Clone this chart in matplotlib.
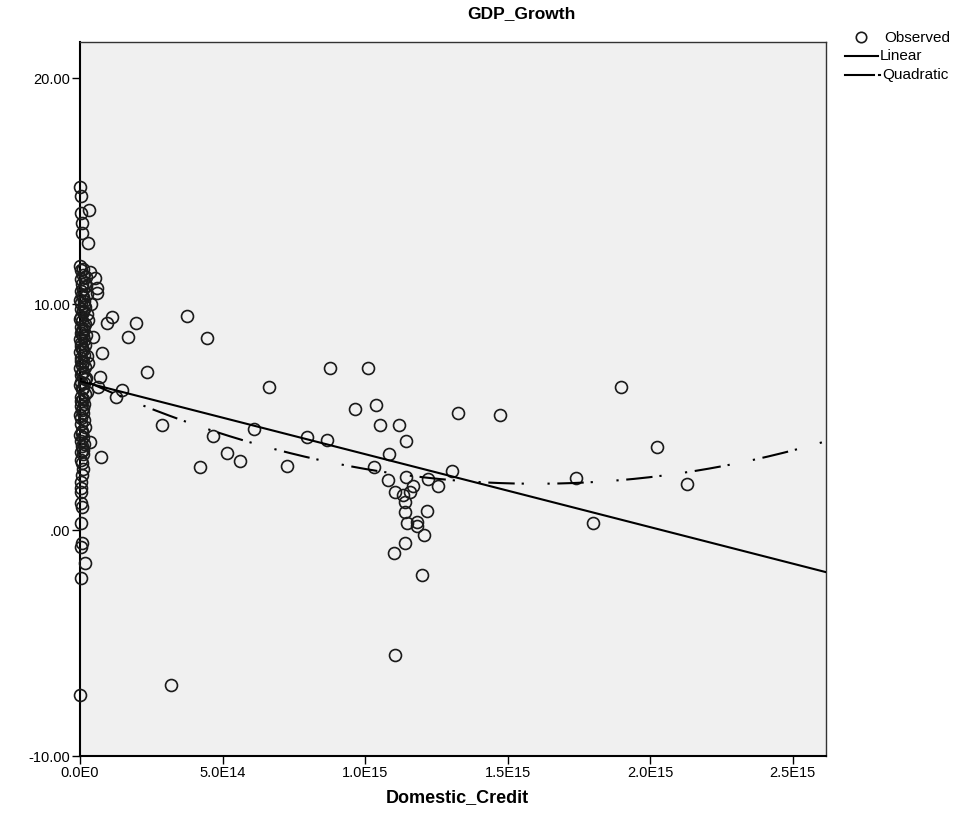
import matplotlib
matplotlib.use("Agg")
import matplotlib.pyplot as plt
from matplotlib.lines import Line2D
import numpy as np

plt.rcParams['font.family'] = ['Liberation Sans', 'DejaVu Sans']
plt.rcParams['lines.scale_dashes'] = False

# ---- data (x in units of 1E15) ----
obs_x = [
    # cluster at the axis
    0.000, 0.005, 0.030, 0.004, 0.006, 0.007, 0.028,
    0.000, 0.004, 0.035, 0.053, 0.060, 0.060, 0.010, 0.002, 0.006, 0.020,
    0.003, 0.008, 0.012, 0.001, 0.005, 0.015, 0.040, 0.002, 0.009, 0.025,
    0.004, 0.001, 0.007, 0.018, 0.003, 0.046, 0.006, 0.002, 0.011, 0.000,
    0.005, 0.028, 0.003, 0.008, 0.001, 0.013, 0.004, 0.002, 0.006, 0.025,
    0.000, 0.009, 0.003, 0.018, 0.005, 0.001, 0.007, 0.002, 0.004, 0.035,
    0.003, 0.007, 0.001, 0.005, 0.002, 0.074, 0.007, 0.000, 0.004,
    0.006, 0.002, 0.004, 0.006, 0.003, 0.005, 0.002, 0.004, 0.018, 0.007,
    0.003, 0.006, 0.004, 0.002,
    # denser part of the axis cluster
    0.012, 0.022, 0.016, 0.010, 0.024, 0.014, 0.019, 0.011, 0.027, 0.015,
    0.009, 0.021, 0.013, 0.017, 0.010, 0.023, 0.012, 0.016, 0.008, 0.020,
    0.014, 0.011, 0.018, 0.009, 0.015, 0.012, 0.010, 0.013, 0.016, 0.008,
    0.011, 0.014, 0.009, 0.012, 0.010, 0.008,
    # spread out points
    0.112, 0.095, 0.077, 0.070, 0.147, 0.126, 0.063, 0.196, 0.168, 0.375,
    0.446, 0.235, 0.288, 0.467, 0.421, 0.516, 0.561, 0.611, 0.663, 0.319,
    0.726, 0.796, 0.867, 0.877, 1.011,
    0.965, 1.039, 1.326, 1.474, 1.053, 1.119, 1.144, 1.084, 1.305, 1.032,
    1.081, 1.144, 1.221, 1.256, 1.168, 1.105, 1.133, 1.158, 1.140, 1.140,
    1.218, 1.147, 1.182, 1.182, 1.207, 1.140, 1.102, 1.200, 1.105,
    1.898, 2.025, 1.740, 2.130, 1.800,
    0.000,
]
obs_y = [
    15.20, 14.78, 14.16, 14.03, 13.58, 13.14, 12.70,
    11.68, 11.50, 11.40, 11.15, 10.70, 10.50, 11.30, 11.10, 10.90, 10.80,
    10.60, 10.40, 10.30, 10.20, 10.05, 9.95, 10.00, 9.80, 9.70, 9.55,
    9.45, 9.35, 9.25, 9.10, 9.00, 8.54, 8.80, 8.70, 8.60, 8.45,
    8.30, 7.39, 8.15, 8.00, 7.90, 7.75, 7.60, 7.50, 7.30, 6.10,
    7.15, 7.00, 6.85, 6.70, 6.55, 6.40, 6.25, 5.90, 5.70, 3.90,
    5.50, 5.30, 5.10, 4.96, 4.70, 3.23, 4.40, 4.20, 3.95,
    3.70, 3.45, 3.10, 2.96, 2.12, 1.86, 1.68, 1.19, -1.46, 1.02,
    0.31, -0.58, -0.75, -2.12,
    11.55, 11.20, 10.95, 10.65, 10.45, 10.15, 9.85, 9.65, 9.30, 9.05,
    8.90, 8.65, 8.40, 8.20, 7.95, 7.70, 7.45, 7.20, 6.95, 6.75,
    6.50, 6.30, 6.00, 5.80, 5.60, 5.40, 5.20, 4.85, 4.55, 4.30,
    4.10, 3.80, 3.55, 3.35, 2.70, 2.45,
    9.42, 9.16, 7.83, 6.77, 6.19, 5.88, 6.33, 9.16, 8.54, 9.47,
    8.50, 6.99, 4.65, 4.16, 2.79, 3.41, 3.05, 4.47, 6.33, -6.86,
    2.83, 4.12, 3.98, 7.17, 7.17,
    5.35, 5.53, 5.18, 5.09, 4.65, 4.65, 3.94, 3.36, 2.61, 2.79,
    2.21, 2.35, 2.26, 1.95, 1.95, 1.68, 1.55, 1.68, 1.24, 0.80,
    0.84, 0.31, 0.35, 0.18, -0.22, -0.58, -1.02, -1.99, -5.53,
    6.33, 3.67, 2.30, 2.04, 0.31,
    -7.30,
]

# curve fits (x in 1E15)
linear_coef = [6.59, -3.23]
quad_vertex_x, quad_vertex_y, quad_k = 1.60, 2.05, 1.82

x_max = 2.617
y_min, y_max = -10.0, 21.6
xticks = [0.0, 0.5, 1.0, 1.5, 2.0, 2.5]
xtick_labels = ["0.0E0", "5.0E14", "1.0E15", "1.5E15", "2.0E15", "2.5E15"]
yticks = [-10, 0, 10, 20]
ytick_labels = ["-10.00", ".00", "10.00", "20.00"]
legend_labels = ["Observed", "Linear", "Quadratic"]

W, H = 972, 836
fig = plt.figure(figsize=(W/100, H/100), dpi=100)
ax = fig.add_axes([80/W, 1-756/H, (826-80)/W, (756-42)/H])
ax.set_facecolor('#F0F0F0')

circle_style = dict(linestyle='none', marker='o', markersize=8.6,
                    markerfacecolor='none', markeredgecolor='#1a1a1a',
                    markeredgewidth=1.2)
ax.plot(obs_x, obs_y, clip_on=False, zorder=3, **circle_style)

xs = np.linspace(0, x_max, 300)
ax.plot(xs, linear_coef[0] + linear_coef[1]*xs, color='black', lw=1.5, zorder=4)
quad_dash = (0, (1.6, 5.5, 19, 5, 1.6, 17))
ax.plot(xs, quad_vertex_y + quad_k*(xs - quad_vertex_x)**2, color='black', lw=1.5,
        linestyle=quad_dash, zorder=4)

ax.set_xlim(0, x_max)
ax.set_ylim(y_min, y_max)
ax.set_xticks(xticks)
ax.set_xticklabels(xtick_labels)
ax.set_yticks(yticks)
ax.set_yticklabels(ytick_labels)
ax.tick_params(direction='out', length=6, width=1, labelsize=10.5, colors='black', pad=1)
for s in ax.spines.values():
    s.set_color('#333333')
    s.set_linewidth(1.0)
ax.spines['left'].set_color('black')
ax.spines['bottom'].set_color('black')
ax.spines['left'].set_linewidth(1.5)
ax.spines['bottom'].set_linewidth(1.5)

fig.text(521/W, 1-14/H, "GDP_Growth", ha='center', va='center',
         fontsize=12.5, fontweight='bold')
fig.text(457/W, 1-798/H, "Domestic_Credit", ha='center', va='center',
         fontsize=13, fontweight='bold')

# legend drawn in figure pixel coordinates
def fx(px):
    return px / W

def fy(py):
    return 1 - py / H

fig.add_artist(Line2D([fx(861)], [fy(37)], transform=fig.transFigure,
                      **dict(circle_style, markersize=7.5)))
fig.add_artist(Line2D([fx(845), fx(878)], [fy(56), fy(56)], transform=fig.transFigure,
                      color='black', lw=1.5))
fig.add_artist(Line2D([fx(845), fx(874)], [fy(75), fy(75)], transform=fig.transFigure,
                      color='black', lw=1.5))
fig.add_artist(Line2D([fx(878.5), fx(880)], [fy(75), fy(75)], transform=fig.transFigure,
                      color='black', lw=1.5))
fig.text(fx(884), fy(38), legend_labels[0], ha='left', va='center', fontsize=11)
fig.text(fx(880), fy(56), legend_labels[1], ha='left', va='center', fontsize=11)
fig.text(fx(882), fy(75), legend_labels[2], ha='left', va='center', fontsize=11)

fig.savefig("out.png", dpi=100)
